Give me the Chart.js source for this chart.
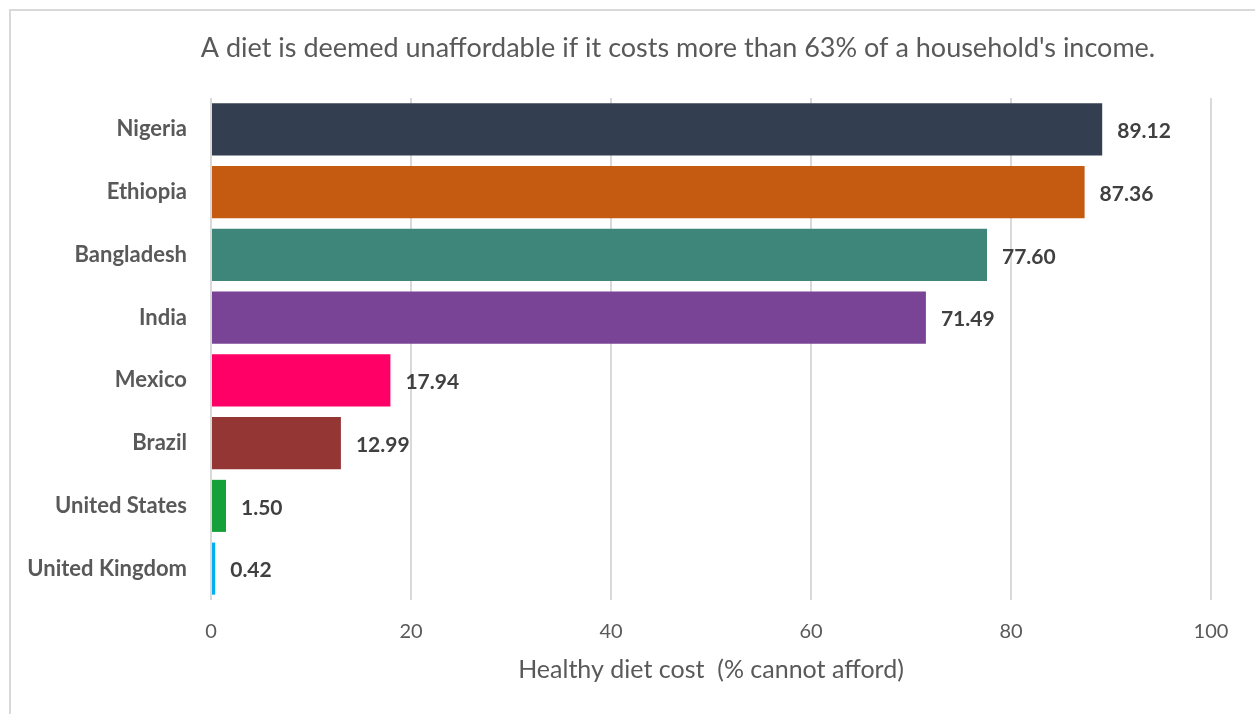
<!DOCTYPE html>
<html>
<head>
<meta charset="utf-8">
<script src="https://cdn.jsdelivr.net/npm/chart.js@4"></script>
<style>
  html, body { margin: 0; padding: 0; background: #fff; overflow: hidden; }
  #wrap { position: relative; width: 1255px; height: 714px; }
  #frame { position: absolute; left: 9px; top: 9px; width: 1400px; height: 900px;
           border: 2px solid #d9d9d9; box-sizing: border-box; }
  canvas { position: absolute; left: 0; top: 0; }
</style>
</head>
<body>
<div id="wrap">
  <div id="frame"></div>
  <canvas id="chart" width="1255" height="714"></canvas>
</div>
<script>
const countries = ["Nigeria", "Ethiopia", "Bangladesh", "India", "Mexico", "Brazil", "United States", "United Kingdom"];
const cannotAfford = [89.12, 87.36, 77.60, 71.49, 17.94, 12.99, 1.50, 0.42];
const barColors = ["#333f50", "#c55a11", "#3e867a", "#794496", "#ff0066", "#943634", "#16a03a", "#00b0f0"];
const xTicks = [0, 20, 40, 60, 80, 100];
const titleText = "A diet is deemed unaffordable if it costs more than 63% of a household's income.";
const axisTitle = "Healthy diet cost  (% cannot afford)";

const FONT = "Lato, 'Open Sans', sans-serif";
const GREY = "#595959";

// value labels to the right of each bar
const valueLabels = {
    id: "valueLabels",
    afterDatasetsDraw(chart) {
        const ctx = chart.ctx;
        const meta = chart.getDatasetMeta(0);
        ctx.save();
        ctx.font = "bold 21px " + FONT;
        ctx.fillStyle = "#404040";
        ctx.textAlign = "left";
        ctx.textBaseline = "middle";
        meta.data.forEach((bar, i) => {
            ctx.fillText(cannotAfford[i].toFixed(2), bar.x + 15, bar.y + 2);
        });
        ctx.restore();
    }
};

// heading sits off-centre in the original, so draw it by hand
const heading = {
    id: "heading",
    afterDraw(chart) {
        const ctx = chart.ctx;
        ctx.save();
        ctx.font = "27px " + FONT;
        ctx.fillStyle = GREY;
        ctx.textAlign = "center";
        ctx.textBaseline = "middle";
        ctx.fillText(titleText, 678, 48);
        ctx.restore();
    }
};

const ctx = document.getElementById("chart").getContext("2d");
new Chart(ctx, {
    type: "bar",
    data: {
        labels: countries,
        datasets: [{
            data: cannotAfford,
            backgroundColor: barColors,
            borderWidth: 0,
            categoryPercentage: 0.83,
            barPercentage: 1.0
        }]
    },
    options: {
        indexAxis: "y",
        responsive: false,
        animation: false,
        layout: { padding: { top: 98, right: 44, bottom: 0, left: 0 } },
        plugins: {
            legend: { display: false },
            tooltip: { enabled: false }
        },
        scales: {
            x: {
                min: 0,
                max: 100,
                afterBuildTicks(scale) {
                    scale.ticks = xTicks.map(v => ({ value: v }));
                },
                afterFit(scale) { scale.height = 114; },
                grid: { color: "#d9d9d9", lineWidth: 2, drawTicks: false },
                border: { display: false },
                ticks: {
                    padding: 20,
                    color: GREY,
                    font: { family: FONT, size: 20 }
                },
                title: {
                    display: true,
                    text: axisTitle,
                    color: GREY,
                    font: { family: FONT, size: 25 },
                    padding: { top: 0, bottom: 29 }
                }
            },
            y: {
                afterFit(scale) { scale.width = 211; },
                grid: { display: false, drawTicks: false },
                border: { display: false },
                ticks: {
                    padding: 24,
                    color: GREY,
                    font: { family: FONT, size: 22, weight: "bold" }
                }
            }
        }
    },
    plugins: [valueLabels, heading]
});
</script>
</body>
</html>
